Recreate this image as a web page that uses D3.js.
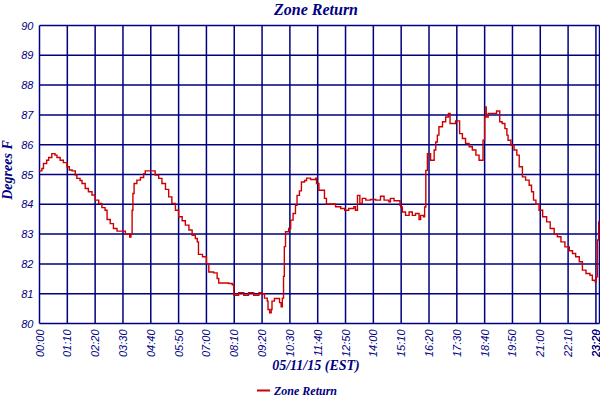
<!DOCTYPE html>
<html>
<head>
<meta charset="utf-8">
<script src="https://cdn.jsdelivr.net/npm/d3@7/dist/d3.min.js"></script>
<style>
  html, body { margin: 0; padding: 0; background: #ffffff; }
  svg { display: block; }
</style>
</head>
<body>
<svg id="chart" width="600" height="400"></svg>
<script>
// ---- data (minutes after 00:00 on 05/11/15, degrees F) ----
const seriesName = "Zone Return";
const minutes = [
  0, 6, 10, 18, 23, 31, 39, 44, 52, 60, 69, 75, 82, 90, 94, 102, 107, 115, 123, 132,
  140, 149, 157, 165, 170, 178, 186, 195, 212, 216, 227, 230, 233, 235, 238, 245, 254, 262, 266, 283,
  291, 300, 308, 317, 325, 333, 342, 350, 359, 367, 376, 384, 392, 397, 400, 410, 420, 426, 438, 447,
  451, 464, 476, 485, 489, 501, 514, 526, 539, 552, 560, 566, 573, 575, 579, 583, 585, 591, 598, 604,
  608, 611, 614, 616, 619, 627, 632, 638, 644, 648, 654, 659, 667, 672, 682, 695, 697, 703, 711, 717,
  722, 737, 745, 758, 768, 778, 791, 795, 800, 804, 806, 812, 821, 833, 846, 858, 867, 879, 883, 892,
  907, 909, 913, 921, 930, 938, 946, 955, 959, 966, 969, 972, 976, 984, 993, 997, 1001, 1005, 1014, 1022,
  1029, 1033, 1043, 1047, 1053, 1057, 1064, 1072, 1081, 1089, 1098, 1106, 1112, 1116, 1120, 1123, 1124, 1129, 1148, 1150,
  1156, 1158, 1164, 1171, 1176, 1179, 1186, 1194, 1201, 1207, 1215, 1223, 1232, 1238, 1243, 1249, 1257, 1266, 1276, 1285,
  1295, 1303, 1312, 1322, 1333, 1341, 1349, 1358, 1366, 1375, 1385, 1391, 1398, 1401, 1404, 1407, 1409
];
const values = [
  85.12, 85.20, 85.37, 85.48, 85.57, 85.70, 85.65, 85.57, 85.48, 85.40, 85.26, 85.15, 85.12, 84.98, 84.87, 84.80, 84.70, 84.53, 84.42, 84.31,
  84.14, 84.03, 83.89, 83.80, 83.49, 83.35, 83.19, 83.10, 83.10, 82.99, 82.90, 83.00, 83.80, 84.36, 84.70, 84.81, 84.90, 85.03, 85.12, 85.12,
  84.98, 84.87, 84.70, 84.50, 84.25, 84.03, 83.80, 83.58, 83.45, 83.30, 83.14, 82.96, 82.85, 82.74, 82.32, 82.24, 82.01, 81.73, 81.70, 81.51,
  81.36, 81.36, 81.34, 81.30, 80.95, 81.03, 80.95, 81.03, 80.95, 81.03, 81.00, 80.85, 80.75, 80.47, 80.36, 80.47, 80.75, 80.84, 80.84, 80.70,
  80.56, 80.85, 81.58, 82.58, 83.08, 83.19, 83.47, 83.69, 83.97, 84.30, 84.45, 84.75, 84.80, 84.88, 84.83, 84.88, 84.70, 84.47, 84.47, 84.20,
  84.01, 84.01, 83.92, 83.86, 83.80, 83.86, 83.92, 83.80, 84.30, 84.30, 84.03, 84.20, 84.14, 84.16, 84.14, 84.27, 84.14, 84.08, 84.20, 84.12,
  83.97, 83.91, 83.74, 83.63, 83.74, 83.63, 83.69, 83.49, 83.63, 83.58, 83.91, 85.14, 85.70, 85.48, 85.82, 86.09, 86.32, 86.60, 86.77, 86.93,
  87.05, 86.71, 86.71, 86.80, 86.80, 86.37, 86.21, 86.04, 85.93, 85.82, 85.65, 85.48, 85.48, 86.15, 86.93, 87.27, 86.93, 87.05, 87.05, 87.13,
  87.13, 86.77, 86.71, 86.54, 86.32, 86.15, 85.98, 85.82, 85.65, 85.26, 84.92, 84.81, 84.64, 84.42, 84.14, 84.00, 83.80, 83.58, 83.41, 83.19,
  83.00, 82.91, 82.74, 82.57, 82.44, 82.35, 82.24, 82.07, 81.79, 81.68, 81.62, 81.45, 81.40, 81.57, 82.80, 83.41, 83.41
];
const xTickMinutes = [0, 70, 140, 210, 280, 350, 420, 490, 560, 630, 700, 770, 840, 910, 980, 1050, 1120, 1190, 1260, 1330, 1400, 1409];
const yTicks = [80, 81, 82, 83, 84, 85, 86, 87, 88, 89, 90];
const chartTitle = "Zone Return";
const xTitle = "05/11/15 (EST)";
const yTitle = "Degrees F";

// ---- layout ----
const W = 600, H = 400;
const margin = { left: 39.5, right: 0.5, top: 25.5, bottom: 76.5 };
const navy = "#000080";
const red = "#cc0000";

const svg = d3.select("#chart");
const x = d3.scaleLinear().domain([0, 1409]).range([margin.left, W - margin.right]);
const y = d3.scaleLinear().domain([80, 90]).range([H - margin.bottom, margin.top]);

const fmt = m => String(Math.floor(m / 60)).padStart(2, "0") + ":" + String(m % 60).padStart(2, "0");

// grid
const grid = svg.append("g").attr("stroke", navy).attr("stroke-width", 1.5);
grid.selectAll("line.h").data(yTicks).enter().append("line")
  .attr("x1", x(0)).attr("x2", x(1409))
  .attr("y1", d => y(d)).attr("y2", d => y(d));
grid.selectAll("line.v").data(xTickMinutes).enter().append("line")
  .attr("y1", y(80)).attr("y2", y(90))
  .attr("x1", d => x(d)).attr("x2", d => x(d));

// y tick labels via axis
const yAxis = svg.append("g")
  .attr("transform", `translate(${margin.left},0)`)
  .call(d3.axisLeft(y).tickValues(yTicks).tickSize(0).tickPadding(6).tickFormat(d3.format("d")));
yAxis.select(".domain").remove();
yAxis.selectAll("text")
  .attr("fill", navy)
  .style("font-family", "'Liberation Sans', Arial, sans-serif")
  .style("font-style", "italic")
  .style("font-size", "11px");

// x tick labels via axis (rotated); keep the last labels inside the picture
const xAxis = svg.append("g")
  .attr("transform", `translate(0,${H - margin.bottom})`)
  .call(d3.axisBottom(x).tickValues(xTickMinutes).tickSize(0).tickFormat(fmt));
xAxis.select(".domain").remove();
xAxis.selectAll("text")
  .attr("fill", navy)
  .attr("text-anchor", "end")
  .attr("x", 0).attr("y", 0).attr("dy", null)
  .attr("transform", d => {
    const dx = Math.min(3.5, W - 1 - x(d));
    return `translate(${dx},6) rotate(-90)`;
  })
  .style("font-family", "'Liberation Sans', Arial, sans-serif")
  .style("font-style", "italic")
  .style("font-size", "11px");

// series line
const data = minutes.map((m, i) => ({ m, v: values[i] }));
svg.append("path")
  .datum(data)
  .attr("fill", "none")
  .attr("stroke", red)
  .attr("stroke-width", 1.4)
  .attr("d", d3.line().x(d => x(d.m)).y(d => y(d.v)).curve(d3.curveStepAfter));

// titles
const titleFont = "'Liberation Serif', 'DejaVu Serif', serif";
svg.append("text")
  .attr("x", 316).attr("y", 15)
  .attr("text-anchor", "middle")
  .attr("fill", navy)
  .style("font-family", titleFont)
  .style("font-style", "italic").style("font-weight", "bold")
  .style("font-size", "16px")
  .text(chartTitle);

svg.append("text")
  .attr("transform", "translate(12,170) rotate(-90)")
  .attr("text-anchor", "middle")
  .attr("fill", navy)
  .style("font-family", titleFont)
  .style("font-style", "italic").style("font-weight", "bold")
  .style("font-size", "14px")
  .text(yTitle);

svg.append("text")
  .attr("x", 316).attr("y", 370)
  .attr("text-anchor", "middle")
  .attr("fill", navy)
  .style("font-family", titleFont)
  .style("font-style", "italic").style("font-weight", "bold")
  .style("font-size", "14px")
  .text(xTitle);

// legend
const legend = svg.append("g").attr("transform", "translate(257,390.5)");
legend.append("line").attr("x1", 0).attr("x2", 13).attr("y1", 0).attr("y2", 0)
  .attr("stroke", red).attr("stroke-width", 2);
legend.append("text")
  .attr("x", 17).attr("y", 4)
  .attr("fill", navy)
  .style("font-family", titleFont)
  .style("font-style", "italic").style("font-weight", "bold")
  .style("font-size", "12px")
  .text(seriesName);
</script>
</body>
</html>
